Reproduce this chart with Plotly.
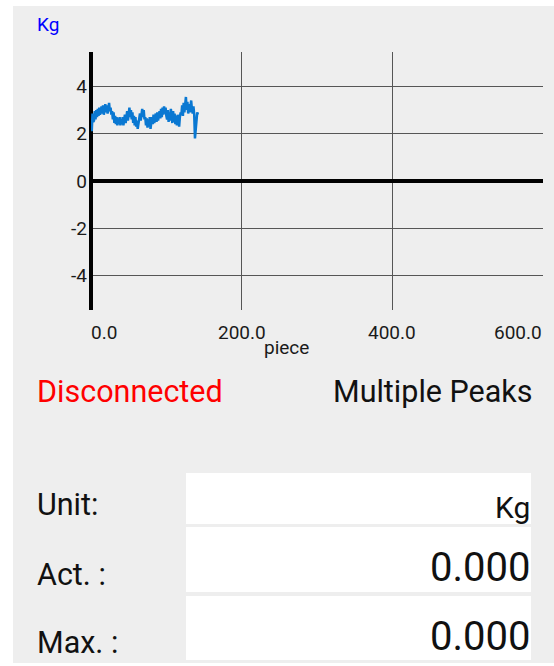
import plotly.graph_objects as go

# ---- data ----
force_values = [
    2.6, 2.1, 2.85, 2.5,
    2.55, 2.95, 2.6, 3.0, 2.7, 3.05, 2.75, 3.1, 2.8, 2.95, 3.15,
    2.85, 3.2, 2.8, 3.15, 3.25, 2.9, 3.2, 2.85, 3.15, 3.3, 2.95, 3.1, 2.8,
    2.95, 2.6, 2.9, 2.45, 2.75, 2.4, 2.7, 2.35, 2.65, 2.4, 2.7, 2.35, 2.6,
    2.4, 2.7, 2.35, 2.65, 2.8, 2.45, 2.85,
    2.95, 2.55, 3.05, 3.1, 2.7, 3.0,
    2.6, 2.9, 2.45, 2.75, 2.35, 2.7, 2.3, 2.55, 2.2, 2.5,
    2.5, 2.85, 2.55, 2.95, 3.05, 2.7, 3.0, 2.6,
    2.7, 2.35, 2.65, 2.25, 2.6, 2.3, 2.7, 2.2, 2.55,
    2.7, 2.4, 2.8, 2.45, 2.75, 2.85, 2.5, 2.9, 2.55, 2.8, 2.95,
    2.65, 3.05, 2.7, 3.1, 2.8, 3.15, 2.85, 3.1, 2.75,
    2.6, 3.0, 2.5, 2.9, 2.55, 3.05, 2.6, 2.45, 2.95, 2.5, 2.85, 2.4,
    2.75, 2.35, 2.8, 2.45, 2.3, 2.7, 2.9,
    2.8, 3.2, 2.75, 3.3, 2.9, 3.4, 3.55,
    3.0, 3.35, 2.85, 3.25, 2.9, 3.3, 3.4,
    3.0, 2.85, 3.15, 2.8,
    1.8, 2.3,
    2.7, 2.9, 2.8,
]
piece_index = list(range(len(force_values)))

x_tick_values = [0, 200, 400, 600]
x_tick_labels = ["0.0", "200.0", "400.0", "600.0"]
y_tick_values = [-4, -2, 0, 2, 4]
y_tick_labels = ["-4", "-2", "0", "2", "4"]

unit_label = "Kg"
x_axis_title = "piece"
status_text = "Disconnected"
mode_text = "Multiple Peaks"
field_labels = ["Unit:", "Act. :", "Max. :"]
field_values = ["Kg", "0.000", "0.000"]

# ---- layout helpers (pixel -> paper) ----
W, H = 554, 666
def px(x):
    return x / W
def py(y):
    return 1 - y / H

FONT = "Roboto"
BG = "#EEEEEE"
TICK_COLOR = "#1A1A1A"

fig = go.Figure()
fig.add_trace(go.Scatter(
    x=piece_index, y=force_values, mode="lines",
    line=dict(color="#0A78D2", width=2.5), hoverinfo="skip", showlegend=False,
))

shapes = [
    dict(type="rect", xref="paper", yref="paper", x0=px(13), x1=px(554), y0=py(663), y1=py(6),
         fillcolor=BG, line=dict(width=0), layer="below"),
]
box_rows = [(473, 524), (527, 592), (596, 660)]
for (t, b) in box_rows:
    shapes.append(dict(type="rect", xref="paper", yref="paper", x0=px(186), x1=px(531),
                       y0=py(b), y1=py(t), fillcolor="white", line=dict(width=0), layer="below"))

annotations = []
anchors = ["left"] + ["center"] * (len(x_tick_values) - 2) + ["right"]
for v, lab, anc in zip(x_tick_values, x_tick_labels, anchors):
    shift = -2 if anc == "left" else (1 if anc == "right" else 0)
    annotations.append(dict(x=v, xref="x", y=py(332), yref="paper", text=lab, showarrow=False,
                            xanchor=anc, yanchor="middle", xshift=shift,
                            font=dict(family=FONT, size=19, color=TICK_COLOR)))
annotations.append(dict(x=px(286), y=py(347), xref="paper", yref="paper", text=x_axis_title, showarrow=False,
                        xanchor="center", yanchor="middle", font=dict(family=FONT, size=19, color=TICK_COLOR)))
annotations.append(dict(x=px(35), y=py(25), xref="paper", yref="paper", text=unit_label, showarrow=False,
                        xanchor="left", yanchor="middle", font=dict(family=FONT, size=19, color="#0000FF")))
annotations.append(dict(x=px(35), y=py(391), xref="paper", yref="paper", text=status_text, showarrow=False,
                        xanchor="left", yanchor="middle", font=dict(family=FONT, size=30.5, color="#FF0000")))
annotations.append(dict(x=px(535), y=py(391), xref="paper", yref="paper", text=mode_text, showarrow=False,
                        xanchor="right", yanchor="middle", font=dict(family=FONT, size=30.5, color="#111111")))
label_y = [505, 574, 642]
value_y = [507, 567, 636]
value_size = [30, 40, 40]
for lab, val, ly, vy, vs in zip(field_labels, field_values, label_y, value_y, value_size):
    annotations.append(dict(x=px(35), y=py(ly), xref="paper", yref="paper", text=lab, showarrow=False,
                            xanchor="left", yanchor="middle", font=dict(family=FONT, size=30.5, color="#111111")))
    annotations.append(dict(x=px(532), y=py(vy), xref="paper", yref="paper", text=val, showarrow=False,
                            xanchor="right", yanchor="middle", font=dict(family=FONT, size=vs, color="#111111")))

fig.update_layout(
    width=W, height=H, margin=dict(l=0, r=0, t=0, b=0),
    paper_bgcolor="white", plot_bgcolor="rgba(0,0,0,0)",
    shapes=shapes, annotations=annotations,
    xaxis=dict(domain=[px(91), px(543)], range=[0, 600], tickvals=x_tick_values,
               showticklabels=False, showgrid=True, gridcolor="#555555", gridwidth=1,
               zeroline=True, zerolinecolor="black", zerolinewidth=4, showline=False, fixedrange=True),
    yaxis=dict(domain=[py(310), py(52)], range=[-5.45, 5.45], tickvals=y_tick_values, ticktext=y_tick_labels,
               showgrid=True, gridcolor="#555555", gridwidth=1,
               zeroline=True, zerolinecolor="black", zerolinewidth=4, showline=False,
               ticks="", ticklabelstandoff=3, tickfont=dict(family=FONT, size=19, color=TICK_COLOR), fixedrange=True),
)

fig.write_html("out.html", config={"displayModeBar": False},
               post_script="document.body.style.margin='0';document.body.style.overflow='hidden';")
